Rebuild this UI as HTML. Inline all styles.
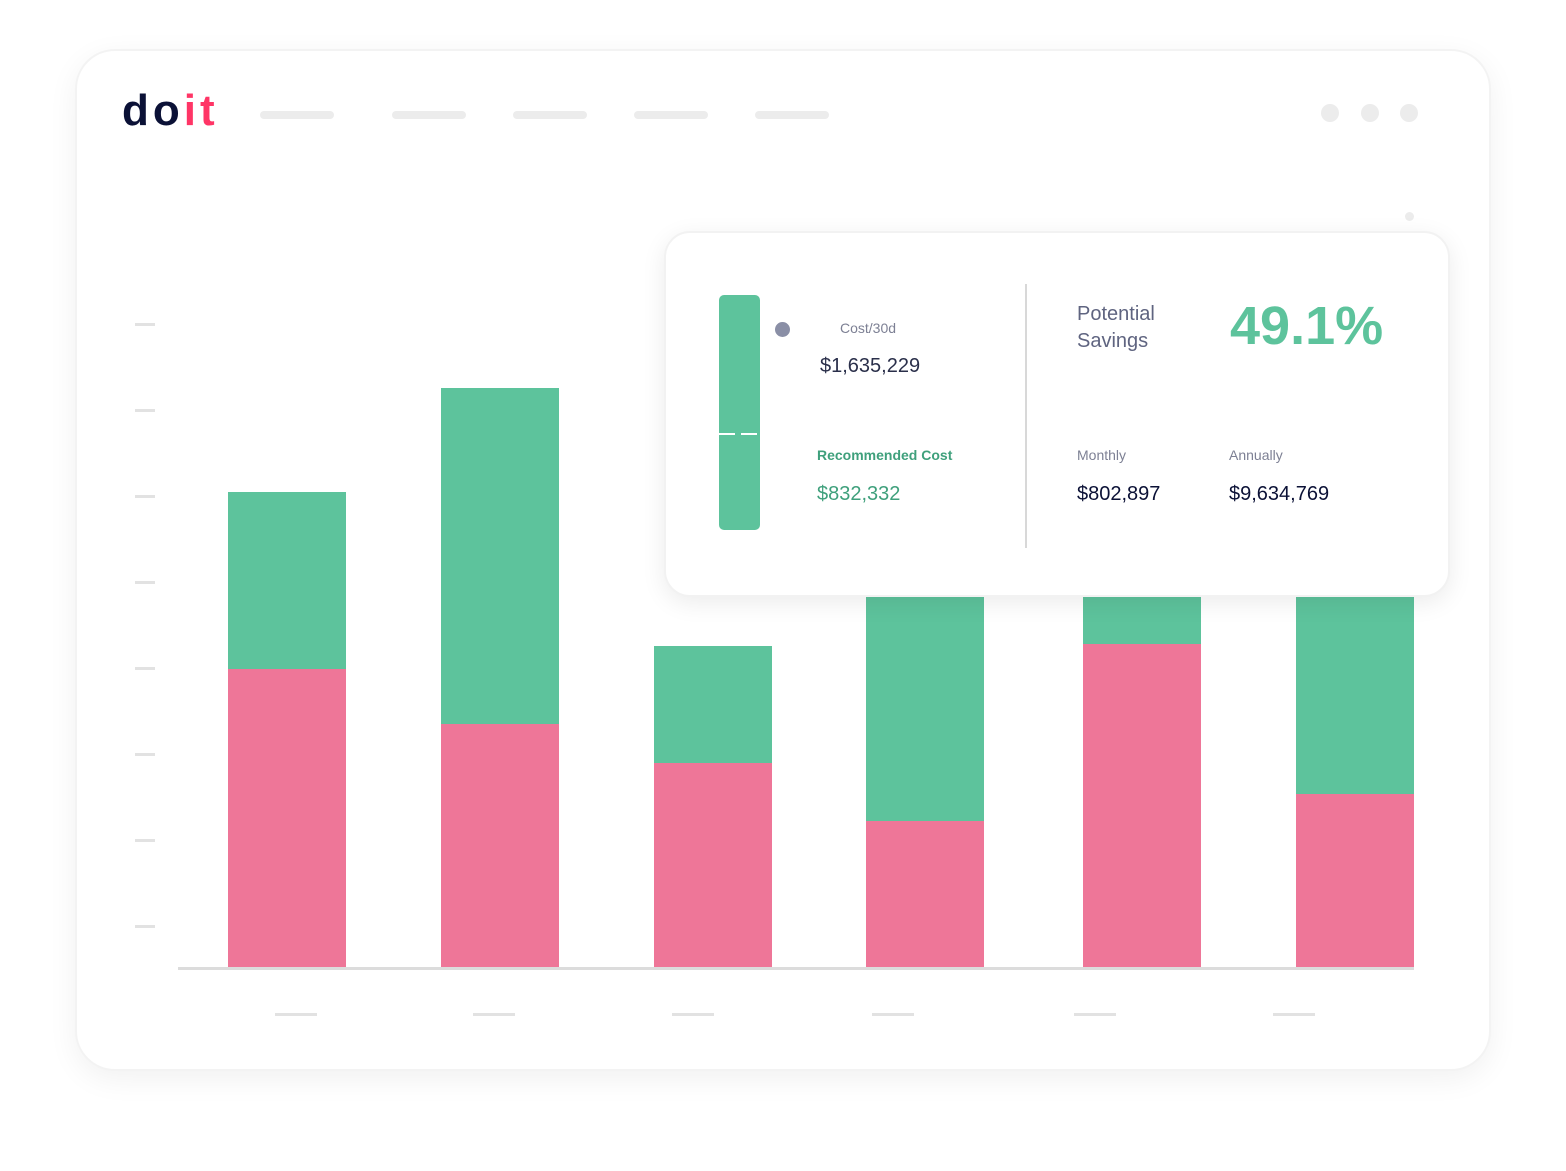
<!DOCTYPE html>
<html><head><style>
body{margin:0;width:1566px;height:1171px;background:#fff;position:relative;overflow:hidden;font-family:"Liberation Sans",sans-serif}
div{position:absolute;box-sizing:border-box}
.frame{left:75px;top:49px;width:1416px;height:1022px;border-radius:40px;background:#fff;box-shadow:0 8px 30px rgba(0,0,0,0.06);border:2px solid #f3f3f3}
.nav{height:8px;border-radius:4px;background:#ececec;top:111px;width:74px}
.dot{width:18px;height:18px;border-radius:50%;background:#ececec;top:104px}
.tk{left:135px;width:20px;height:3px;background:#e2e2e2}
.xt{top:1013px;width:42px;height:3px;background:#e2e2e2}
.g{background:#5dc39c}.p{background:#ee7698}
.card{left:664px;top:231px;width:786px;height:366px;border-radius:26px;background:#fff;box-shadow:0 6px 24px rgba(0,0,0,0.08);border:2px solid #f2f2f2}
.t{white-space:nowrap}
</style></head><body>
<div class="frame"></div>
<div class="t" style="left:122px;top:86px;font-size:44px;font-weight:bold;letter-spacing:4px;line-height:50px"><span style="color:#0b1136">do</span><span style="color:#ff3566">it</span></div>
<div class="nav" style="left:260px"></div><div class="nav" style="left:392px"></div><div class="nav" style="left:513px"></div><div class="nav" style="left:634px"></div><div class="nav" style="left:755px"></div>
<div class="dot" style="left:1321px"></div><div class="dot" style="left:1361px"></div><div class="dot" style="left:1400px"></div>
<div style="left:1405px;top:212px;width:9px;height:9px;border-radius:50%;background:#ececec"></div>
<div class="tk" style="top:323px"></div><div class="tk" style="top:409px"></div><div class="tk" style="top:495px"></div><div class="tk" style="top:581px"></div><div class="tk" style="top:667px"></div><div class="tk" style="top:753px"></div><div class="tk" style="top:839px"></div><div class="tk" style="top:925px"></div>
<div class="g" style="left:228px;top:492px;width:118px;height:177px"></div><div class="p" style="left:228px;top:669px;width:118px;height:299px"></div>
<div class="g" style="left:441px;top:388px;width:118px;height:336px"></div><div class="p" style="left:441px;top:724px;width:118px;height:244px"></div>
<div class="g" style="left:654px;top:646px;width:118px;height:117px"></div><div class="p" style="left:654px;top:763px;width:118px;height:205px"></div>
<div class="g" style="left:866px;top:560px;width:118px;height:261px"></div><div class="p" style="left:866px;top:821px;width:118px;height:147px"></div>
<div class="g" style="left:1083px;top:560px;width:118px;height:84px"></div><div class="p" style="left:1083px;top:644px;width:118px;height:324px"></div>
<div class="g" style="left:1296px;top:560px;width:118px;height:234px"></div><div class="p" style="left:1296px;top:794px;width:118px;height:174px"></div>
<div style="left:178px;top:967px;width:1236px;height:3px;background:#dcdcdc"></div>
<div class="xt" style="left:275px"></div><div class="xt" style="left:473px"></div><div class="xt" style="left:672px"></div><div class="xt" style="left:872px"></div><div class="xt" style="left:1074px"></div><div class="xt" style="left:1273px"></div>
<div class="card">
<div class="g" style="left:53px;top:62px;width:41px;height:235px;border-radius:5px"></div>
<div style="left:53px;top:200px;width:41px;height:2px;background:repeating-linear-gradient(90deg,#fff 0 16px,transparent 16px 22px)"></div>
<div style="left:109px;top:89px;width:15px;height:15px;border-radius:50%;background:#8a8fa6"></div>
<div class="t" style="left:174px;top:87px;font-size:14px;color:#7d8094">Cost/30d</div>
<div class="t" style="left:154px;top:122px;font-size:20px;color:#2a2f4a">$1,635,229</div>
<div class="t" style="left:151px;top:214px;font-size:14px;font-weight:bold;color:#3fa07c">Recommended Cost</div>
<div class="t" style="left:151px;top:250px;font-size:20px;color:#3fa07c">$832,332</div>
<div style="left:359px;top:51px;width:2px;height:264px;background:#d8d8d8"></div>
<div class="t" style="left:411px;top:68px;font-size:20px;line-height:27px;color:#5f6480">Potential<br>Savings</div>
<div class="t" style="left:564px;top:62px;font-size:54px;font-weight:bold;color:#5dc39c">49.1%</div>
<div class="t" style="left:411px;top:214px;font-size:14px;color:#7d8094">Monthly</div>
<div class="t" style="left:563px;top:214px;font-size:14px;color:#7d8094">Annually</div>
<div class="t" style="left:411px;top:250px;font-size:20px;color:#0b1136">$802,897</div>
<div class="t" style="left:563px;top:250px;font-size:20px;color:#0b1136">$9,634,769</div>
</div>
</body></html>
